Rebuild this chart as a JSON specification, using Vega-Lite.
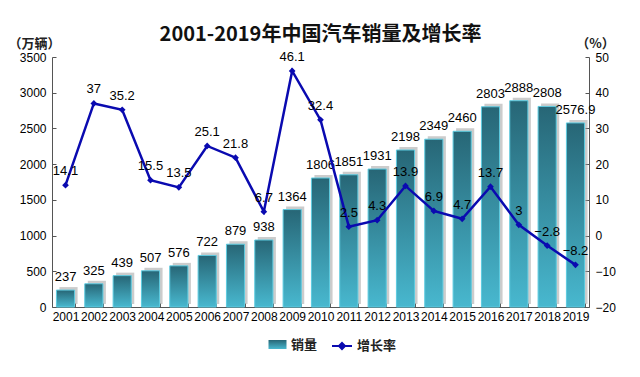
{
  "$schema": "https://vega.github.io/schema/vega-lite/v6.json",
  "width": 537,
  "height": 250,
  "autosize": {"type": "none"},
  "padding": {"left": 52, "top": 57, "right": 51, "bottom": 70},
  "background": "white",
  "title": {
    "text": "2001-2019年中国汽车销量及增长率",
    "font": "Noto Sans CJK SC",
    "fontSize": 20,
    "fontWeight": "bold",
    "color": "#111111",
    "anchor": "middle",
    "frame": "group",
    "offset": -8
  },
  "data": {
    "values": [
      {"year": "2001", "sales": 237, "rate": 14.1, "s": "销量", "g": "增长率"},
      {"year": "2002", "sales": 325, "rate": 37, "s": "销量", "g": "增长率"},
      {"year": "2003", "sales": 439, "rate": 35.2, "s": "销量", "g": "增长率"},
      {"year": "2004", "sales": 507, "rate": 15.5, "s": "销量", "g": "增长率"},
      {"year": "2005", "sales": 576, "rate": 13.5, "s": "销量", "g": "增长率"},
      {"year": "2006", "sales": 722, "rate": 25.1, "s": "销量", "g": "增长率"},
      {"year": "2007", "sales": 879, "rate": 21.8, "s": "销量", "g": "增长率"},
      {"year": "2008", "sales": 938, "rate": 6.7, "s": "销量", "g": "增长率"},
      {"year": "2009", "sales": 1364, "rate": 46.1, "s": "销量", "g": "增长率"},
      {"year": "2010", "sales": 1806, "rate": 32.4, "s": "销量", "g": "增长率"},
      {"year": "2011", "sales": 1851, "rate": 2.5, "s": "销量", "g": "增长率"},
      {"year": "2012", "sales": 1931, "rate": 4.3, "s": "销量", "g": "增长率"},
      {"year": "2013", "sales": 2198, "rate": 13.9, "s": "销量", "g": "增长率"},
      {"year": "2014", "sales": 2349, "rate": 6.9, "s": "销量", "g": "增长率"},
      {"year": "2015", "sales": 2460, "rate": 4.7, "s": "销量", "g": "增长率"},
      {"year": "2016", "sales": 2803, "rate": 13.7, "s": "销量", "g": "增长率"},
      {"year": "2017", "sales": 2888, "rate": 3, "s": "销量", "g": "增长率"},
      {"year": "2018", "sales": 2808, "rate": -2.8, "s": "销量", "g": "增长率"},
      {"year": "2019", "sales": 2576.9, "rate": -8.2, "s": "销量", "g": "增长率"}
    ]
  },
  "encoding": {
    "x": {
      "field": "year",
      "type": "ordinal",
      "scale": {"paddingInner": 0.36, "paddingOuter": 0.157},
      "axis": {
        "title": null,
        "labelAngle": 0,
        "labelFont": "Liberation Sans",
        "labelFontSize": 12,
        "labelColor": "#000000",
        "labelPadding": 8,
        "tickBand": "extent",
        "tickSize": -4,
        "tickColor": "#555555",
        "domainColor": "#555555"
      }
    }
  },
  "layer": [
    {
      "encoding": {
        "y": {
          "field": "sales",
          "type": "quantitative",
          "scale": {"domain": [0, 3500], "nice": false},
          "axis": {
            "orient": "left",
            "values": [0, 500, 1000, 1500, 2000, 2500, 3000, 3500],
            "format": "d",
            "title": "（万辆）",
            "titleAngle": 0,
            "titleFont": "Noto Sans CJK SC",
            "titleFontSize": 13,
            "titleFontWeight": "bold",
            "titleColor": "#222222",
            "titleAlign": "center",
            "titleBaseline": "middle",
            "titleX": -18,
            "titleY": -14,
            "labelFont": "Liberation Sans",
            "labelFontSize": 12,
            "labelColor": "#000000",
            "labelPadding": 10,
            "tickSize": -4,
            "tickColor": "#555555",
            "domainColor": "#555555"
          }
        }
      },
      "layer": [
        {
          "mark": {"type": "bar", "color": "#9a9a9a", "opacity": 0.5, "xOffset": 3, "yOffset": -3},
          "encoding": {}
        },
        {
          "mark": {
            "type": "bar",
            "color": {
              "gradient": "linear",
              "x1": 0, "y1": 0, "x2": 0, "y2": 1,
              "stops": [
                {"offset": 0, "color": "#276676"},
                {"offset": 1, "color": "#48b8cf"}
              ]
            },
            "stroke": "#5ccbe0",
            "strokeWidth": 1
          },
          "encoding": {
            "opacity": {
              "field": "s",
              "type": "ordinal",
              "scale": {"range": [1]},
              "legend": {
                "title": null,
                "orient": "none",
                "legendX": 216,
                "legendY": 278,
                "symbolType": "M-1,-0.5H1V0.5H-1Z",
                "symbolSize": 324,
                "symbolFillColor": "#3ea6be",
                "symbolStrokeColor": "#5ccbe0",
                "symbolStrokeWidth": 1,
                "labelFont": "Noto Sans CJK SC",
                "labelFontSize": 13,
                "labelFontWeight": "bold",
                "labelColor": "#222222"
              }
            }
          }
        },
        {
          "mark": {"type": "text", "baseline": "bottom", "dy": -6, "font": "Liberation Sans", "fontSize": 13, "color": "#000000"},
          "encoding": {"text": {"field": "sales", "type": "quantitative"}}
        }
      ]
    },
    {
      "encoding": {
        "y": {
          "field": "rate",
          "type": "quantitative",
          "scale": {"domain": [-20, 50], "nice": false},
          "axis": {
            "orient": "right",
            "values": [-20, -10, 0, 10, 20, 30, 40, 50],
            "title": "（%）",
            "titleAngle": 0,
            "titleFont": "Noto Sans CJK SC",
            "titleFontSize": 13,
            "titleFontWeight": "bold",
            "titleColor": "#222222",
            "titleAlign": "center",
            "titleBaseline": "middle",
            "titleX": 6,
            "titleY": -14,
            "labelFont": "Liberation Sans",
            "labelFontSize": 12,
            "labelColor": "#000000",
            "labelPadding": 10,
            "tickSize": -4,
            "tickColor": "#555555",
            "domainColor": "#555555"
          }
        }
      },
      "layer": [
        {
          "mark": {"type": "line", "strokeWidth": 2.5, "point": {"shape": "diamond", "size": 45, "filled": true}},
          "encoding": {
            "color": {
              "field": "g",
              "type": "nominal",
              "scale": {"range": ["#0a0ab0"]},
              "legend": {
                "title": null,
                "orient": "none",
                "legendX": 279,
                "legendY": 278,
                "symbolType": "M-1,0H1M-0.3,0L0,-0.3L0.3,0L0,0.3Z",
                "symbolSize": 400,
                "symbolFillColor": "#0a0ab0",
                "symbolStrokeColor": "#0a0ab0",
                "symbolStrokeWidth": 2,
                "labelFont": "Noto Sans CJK SC",
                "labelFontSize": 13,
                "labelFontWeight": "bold",
                "labelColor": "#222222"
              }
            }
          }
        },
        {
          "mark": {"type": "text", "baseline": "bottom", "dy": -7, "font": "Liberation Sans", "fontSize": 13, "color": "#000000"},
          "encoding": {"text": {"field": "rate", "type": "quantitative"}}
        }
      ]
    }
  ],
  "resolve": {"scale": {"y": "independent", "color": "independent", "opacity": "independent"}},
  "config": {
    "view": {"stroke": null},
    "axis": {"grid": false}
  }
}
